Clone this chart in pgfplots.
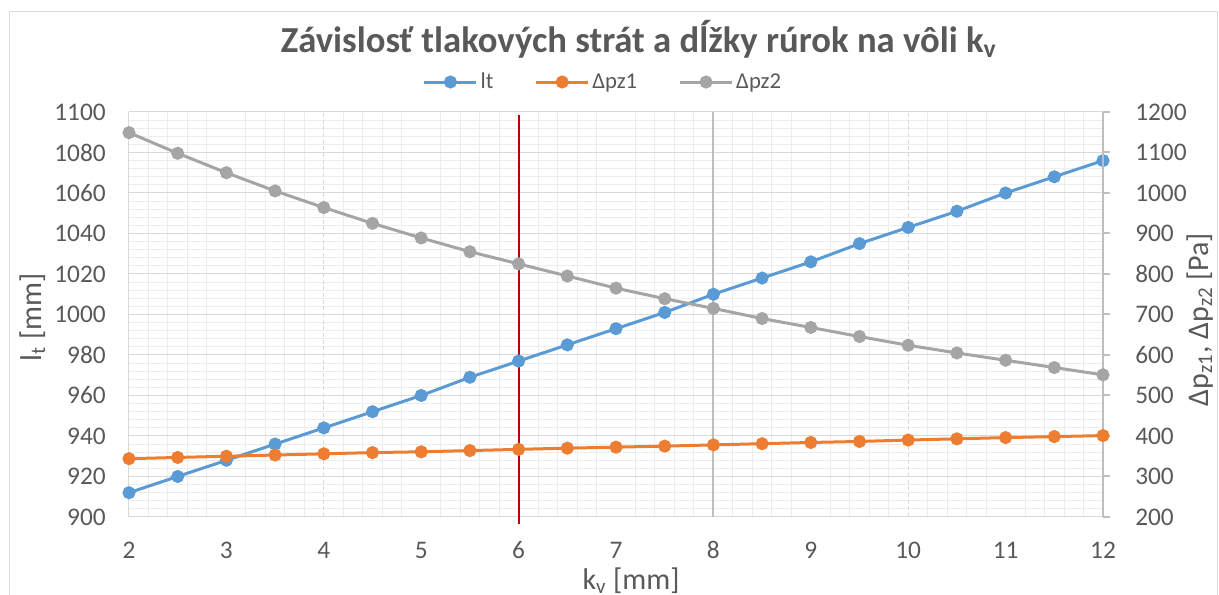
\documentclass[border=0pt]{standalone}
\usepackage{pgfplots}
\pgfplotsset{compat=1.18}
\usepackage{fontspec}
\setmainfont{Carlito}
\definecolor{cblue}{HTML}{5B9BD5}
\definecolor{corange}{HTML}{ED7D31}
\definecolor{cgray}{HTML}{A5A5A5}
\definecolor{cred}{HTML}{C00000}
\definecolor{textgray}{HTML}{595959}
\definecolor{gridmajor}{HTML}{D9D9D9}
\definecolor{gridminor}{HTML}{EDEDED}
\definecolor{axisgray}{HTML}{BFBFBF}
\pgfplotstableread{
x lt
2 912
2.5 920
3 928
3.5 936
4 944
4.5 952
5 960
5.5 969
6 977
6.5 985
7 993
7.5 1001
8 1010
8.5 1018
9 1026
9.5 1035
10 1043
10.5 1051
11 1060
11.5 1068
12 1076
}\tablt
\pgfplotstableread{
x pz1 pz2
2 344 1149
2.5 347 1098
3 350 1050
3.5 353 1005
4 356 964
4.5 359 925
5 361 889
5.5 364 855
6 367 825
6.5 370 795
7 372.5 765
7.5 375 739
8 378 715
8.5 381 690
9 384 668
9.5 386.5 645.5
10 390 624
10.5 393 605
11 396 587
11.5 398.5 569
12 401 551
}\tabpz
\begin{document}
\begin{tikzpicture}
\useasboundingbox (0,0) rectangle (914.25pt,446.25pt);
\draw[gridmajor, line width=0.75pt] (6.75pt,-2pt) -- (6.75pt,437.25pt) -- (913pt,437.25pt) -- (913pt,-2pt);
\node[anchor=base, text=textgray, font=\fontsize{27.5}{32}\selectfont\bfseries] at (479pt,406.5pt) {Závislosť tlakových strát a dĺžky rúrok na vôli k\textsubscript{v}};
\begin{axis}[
  at={(96.75pt,58.5pt)}, anchor=south west,
  scale only axis, width=730.5pt, height=303.75pt,
  xmin=2, xmax=12, ymin=900, ymax=1100,
  xtick={2,...,12}, ytick={900,920,...,1100},
  minor x tick num=4, minor y tick num=4,
  xminorgrids=true, ymajorgrids=true, yminorgrids=true,
  major grid style={color=gridmajor, line width=0.75pt},
  minor grid style={color=gridminor, line width=0.75pt},
  axis y line*=left, axis x line*=bottom,
  axis line style={color=gridmajor, line width=0.75pt, -},
  tick style={draw=none},
  ticklabel style={font=\fontsize{19}{22}\selectfont, text=textgray},
  /pgf/number format/assume math mode=true, /pgf/number format/1000 sep={},
  xticklabel style={anchor=center, yshift=-24.75pt},
  yticklabel style={anchor=east, inner sep=0pt, xshift=-17.25pt},
  xlabel={k\textsubscript{v} [mm]},
  xlabel style={at={(axis description cs:0.5154,-0.178)}, anchor=base, font=\fontsize{22.5}{26}\selectfont, text=textgray},
  ylabel={l\textsubscript{t} [mm]},
  ylabel style={at={(axis description cs:-0.0903,0.4926)}, anchor=base, rotate=0, font=\fontsize{22.5}{26}\selectfont, text=textgray},
  clip=false,
]
\draw[gridmajor, line width=0.75pt, dash pattern=on 3pt off 2pt] (axis cs:4,900) -- (axis cs:4,1100);
\draw[gridmajor, line width=0.75pt, dash pattern=on 3pt off 2pt] (axis cs:10,900) -- (axis cs:10,1100);
\addplot[axisgray, line width=1.5pt, forget plot] coordinates {(8,900) (8,1100)};
\addplot[cred, line width=1.5pt, forget plot] coordinates {(6,1098.5) (6,896.3)};
\addplot[cblue, line width=2.25pt, mark=*, mark size=3.75pt] table[x=x, y=lt] {\tablt};
\end{axis}
\begin{axis}[
  at={(96.75pt,58.5pt)}, anchor=south west,
  scale only axis, width=730.5pt, height=303.75pt,
  xmin=2, xmax=12, ymin=200, ymax=1200,
  ytick={200,300,...,1200},
  axis y line*=right, axis x line=none,
  y axis line style={color=axisgray, line width=1.5pt, -},
  tick align=outside, major tick length=5.25pt,
  ytick style={color=axisgray, line width=1.5pt},
  ticklabel style={font=\fontsize{19}{22}\selectfont, text=textgray},
  /pgf/number format/assume math mode=true, /pgf/number format/1000 sep={},
  yticklabel style={anchor=west, inner sep=0pt, xshift=18.75pt},
  ylabel={Δp\textsubscript{z1}, Δp\textsubscript{z2} [Pa]},
  ylabel style={at={(axis description cs:1.1078,0.4877)}, anchor=base, font=\fontsize{22.5}{26}\selectfont, text=textgray},
  legend columns=3,
  legend style={at={(axis description cs:0.487,1.074)}, anchor=center, draw=none, fill=none,
    font=\fontsize{17}{20}\selectfont, text=textgray,
    /tikz/every even column/.append style={column sep=29pt}},
  legend image code/.code={\draw[#1, mark repeat=2, mark phase=2] plot coordinates {(0pt,0pt) (19.5pt,0pt) (39pt,0pt)};},
  clip=false,
]
\addlegendimage{cblue, line width=2.25pt, mark=*, mark size=3.75pt}
\addlegendentry{lt}
\addplot[corange, line width=2.25pt, mark=*, mark size=3.75pt] table[x=x, y=pz1] {\tabpz};
\addlegendentry{Δpz1}
\addplot[cgray, line width=2.25pt, mark=*, mark size=3.75pt] table[x=x, y=pz2] {\tabpz};
\addlegendentry{Δpz2}
\end{axis}
\end{tikzpicture}
\end{document}
